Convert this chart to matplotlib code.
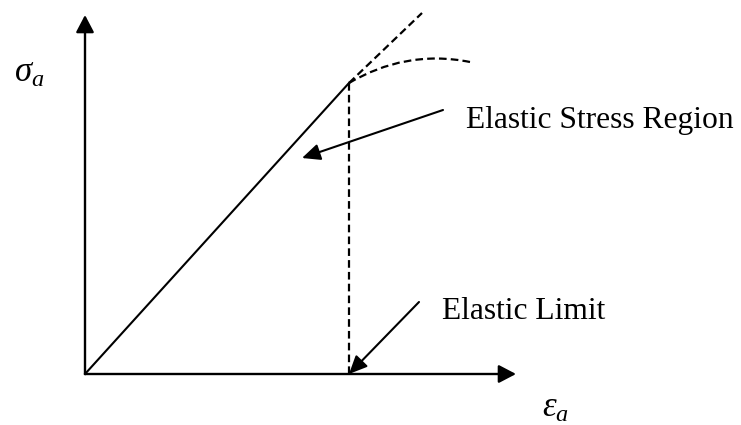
import matplotlib.pyplot as plt
from matplotlib.path import Path
from matplotlib.patches import PathPatch

plt.rcParams['mathtext.fontset'] = 'custom'
plt.rcParams['mathtext.it'] = 'Liberation Serif:italic'
plt.rcParams['mathtext.rm'] = 'Liberation Serif'
plt.rcParams['lines.scale_dashes'] = False

# schematic values (strain, stress), arbitrary units
axis_end = [431, 359]               # x-axis end, y-axis end
elastic_limit = [264, 291]          # end of linear region
extension_end = [337, 361]          # dashed continuation of the line
plastic_curve_x = [264, 300, 340, 385]   # bezier control points
plastic_curve_y = [291, 312, 321, 312]

labels = ["Elastic Stress Region", "Elastic Limit"]
label_pos = [[381, 246], [357, 55]]
arrow_from = [[358, 264], [334, 72]]
arrow_to = [[217, 216], [264, 0]]

fig = plt.figure(figsize=(7.41, 4.25), dpi=100)
ax = fig.add_axes([0, 0, 1, 1])
ax.set_xlim(-85, 656)
ax.set_ylim(-51, 374)
ax.axis('off')

head = '-|>,head_length=10.5,head_width=5.5'
dash = (5.5, 3)

# axes with arrowheads
ax.annotate('', xy=(axis_end[0], 0), xytext=(0, 0),
            arrowprops=dict(arrowstyle=head, color='black', lw=1.7,
                            shrinkA=0, shrinkB=0, mutation_scale=1))
ax.annotate('', xy=(0, axis_end[1]), xytext=(0, 0),
            arrowprops=dict(arrowstyle=head, color='black', lw=1.7,
                            shrinkA=0, shrinkB=0, mutation_scale=1))

# linear elastic line
ax.plot([0, elastic_limit[0]], [0, elastic_limit[1]], color='black', lw=1.5)

# dashed continuation and drop line
ax.plot([elastic_limit[0], extension_end[0]], [elastic_limit[1], extension_end[1]],
        color='black', lw=1.6, dashes=dash)
ax.plot([elastic_limit[0], elastic_limit[0]], [0, elastic_limit[1]],
        color='black', lw=1.6, dashes=dash)

# dashed curve past the elastic limit
verts = list(zip(plastic_curve_x, plastic_curve_y))
codes = [Path.MOVETO, Path.CURVE4, Path.CURVE4, Path.CURVE4]
ax.add_patch(PathPatch(Path(verts, codes), fill=False, color='black', lw=1.6,
                       linestyle=(0, dash)))

# labels with arrows
for lab, pos, a, b in zip(labels, label_pos, arrow_from, arrow_to):
    ax.text(pos[0], pos[1], lab, fontsize=22.7, family='Liberation Serif',
            ha='left', va='baseline')
    ax.annotate('', xy=b, xytext=a,
                arrowprops=dict(arrowstyle='-|>,head_length=11,head_width=5',
                                color='black', lw=1.5,
                                shrinkA=0, shrinkB=0, mutation_scale=1))

# axis symbols
ax.text(-71, 292, r'$\sigma_a$', fontsize=25, ha='left', va='baseline')
ax.text(457, -43, r'$\varepsilon_a$', fontsize=25, ha='left', va='baseline')

fig.savefig('out.png', dpi=100)
